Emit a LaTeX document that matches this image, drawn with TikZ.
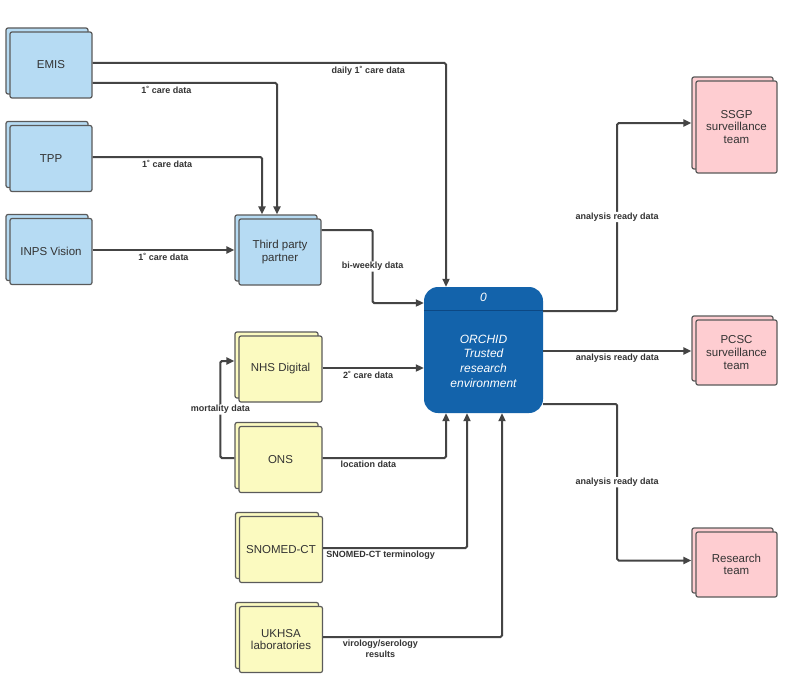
\documentclass[tikz,border=0pt]{standalone}
\usepackage{fontspec}
\setmainfont{Liberation Sans}
\usetikzlibrary{arrows.meta,calc}
\definecolor{bluebox}{RGB}{182,219,243}
\definecolor{yellowbox}{RGB}{251,250,192}
\definecolor{pinkbox}{RGB}{254,205,209}
\definecolor{boxline}{RGB}{90,90,90}
\definecolor{conn}{RGB}{68,68,68}
\definecolor{txt}{RGB}{51,51,51}
\definecolor{orchidblue}{RGB}{19,99,171}
\definecolor{orchiddark}{RGB}{12,72,132}
\tikzset{
 boxbase/.style={draw=boxline, line width=1.2pt, rounded corners=2pt, minimum width=82pt, minimum height=66pt, inner sep=0pt, text=txt, font=\fontsize{11.5}{12.7}\selectfont, align=center},
 bluestack/.style={boxbase, fill=bluebox},
 yellowstack/.style={boxbase, fill=yellowbox, minimum width=83pt},
 pinkstack/.style={boxbase, fill=pinkbox, minimum width=81pt, minimum height=65pt},
 tallpink/.style={pinkstack, minimum height=92pt},
 arr/.style={draw=conn, line width=2pt, rounded corners=1.5pt, -{Triangle[length=8pt,width=7pt]}},
 lbl/.style={font=\bfseries\fontsize{9}{11}\selectfont, text=txt, fill=white, inner sep=1pt, align=center},
 orchidbox/.style={fill=orchidblue, rounded corners=14pt, minimum width=119pt, minimum height=126pt, inner sep=0pt},
}
\newcommand{\mystack}[4]{\node[#3] (#1B) at ($(#2)+(-4,-4)$) {}; \node[#3] (#1) at (#2) {#4};}
\begin{document}
\begin{tikzpicture}[x=1pt,y=-1pt]
\fill[white] (0,0) rectangle (786,682);
\useasboundingbox (0,0) rectangle (786,682);

\mystack{emis}{51,65}{bluestack}{EMIS}
\mystack{tpp}{51,158.5}{bluestack}{TPP}
\mystack{inps}{51,251.5}{bluestack}{INPS Vision}
\mystack{third}{280,252}{bluestack}{Third party\\partner}
\mystack{nhs}{280.5,369}{yellowstack}{NHS Digital}
\mystack{ons}{280.5,459.5}{yellowstack}{ONS}
\mystack{snomed}{281,549.5}{yellowstack}{SNOMED-CT}
\mystack{ukhsa}{281,639.5}{yellowstack}{UKHSA\\laboratories}
\mystack{ssgp}{736.5,127}{tallpink}{SSGP\\surveillance\\team}
\mystack{pcsc}{736.5,352.5}{pinkstack}{PCSC\\surveillance\\team}
\mystack{research}{736.5,564.5}{pinkstack}{Research\\team}

\node[orchidbox] (orchid) at (483.5,350) {};
\draw[orchiddark, line width=0.8pt] ([yshift=-24pt]orchid.north west) -- ([yshift=-24pt]orchid.north east);
\node[text=white, font=\itshape\fontsize{12}{14}\selectfont] (orchidnum) at ([yshift=-11pt]orchid.north) {0};
\node[text=white, align=center, font=\itshape\fontsize{12}{14.7}\selectfont] (orchidtxt) at ([yshift=-11pt]orchid.center) {ORCHID\\Trusted\\research\\environment};

% inputs
\draw[arr] ([yshift=2pt]emis.east) -| node[lbl, pos=0.39, below=1pt] {daily 1˚ care data} ([xshift=-37.5pt]orchid.north);
\draw[arr] ([yshift=-18pt]emis.east) -| node[lbl, pos=0.2, below=1pt] {1˚ care data} ([xshift=1pt]thirdB.north);
\draw[arr] ([yshift=1.5pt]tpp.east) -| node[lbl, pos=0.22, below=1pt] {1˚ care data} ([xshift=-14pt]thirdB.north);
\draw[arr] ([yshift=1.5pt]inps.east) coordinate (inpsout) -- node[lbl, below=1pt] {1˚ care data} (inpsout -| thirdB.west);
\draw[arr] ([yshift=22pt]third.east) -- ++(51,0) |- node[lbl, pos=0.25] {bi-weekly data} ([yshift=47pt]orchid.west);
\draw[arr] ([yshift=1pt]nhs.east) coordinate (nhsout) -- node[lbl, below=1pt, pos=0.45] {2˚ care data} (nhsout -| orchid.west);
\draw[arr] ([yshift=1.5pt]ons.east) -| node[lbl, below=1pt, pos=0.185] {location data} ([xshift=-37.5pt]orchid.south);
\draw[arr] ([yshift=-2.5pt]onsB.west) -- ++(-14,0) |- node[lbl, pos=0.25] {mortality data} ([yshift=4pt]nhsB.west);
\draw[arr] ([yshift=1.5pt]snomed.east) -| node[lbl, below=1pt, pos=0.2] {SNOMED-CT terminology} ([xshift=-16.5pt]orchid.south);
\draw[arr] ([yshift=2.5pt]ukhsa.east) -| node[lbl, below=1pt, pos=0.16] {virology/serology\\results} ([xshift=18.5pt]orchid.south);

% outputs
\draw[arr] ([yshift=39pt]orchid.east) -- ++(74,0) |- node[lbl, pos=0.25] {analysis ready data} (ssgpB.west);
\draw[arr] ([yshift=-1pt]orchid.east) coordinate (pcscout) -- node[lbl, below=1pt] {analysis ready data} (pcscout -| pcscB.west);
\draw[arr] ([yshift=-54pt]orchid.east) -- ++(74,0) |- node[lbl, pos=0.25] {analysis ready data} (researchB.west);
\end{tikzpicture}
\end{document}
